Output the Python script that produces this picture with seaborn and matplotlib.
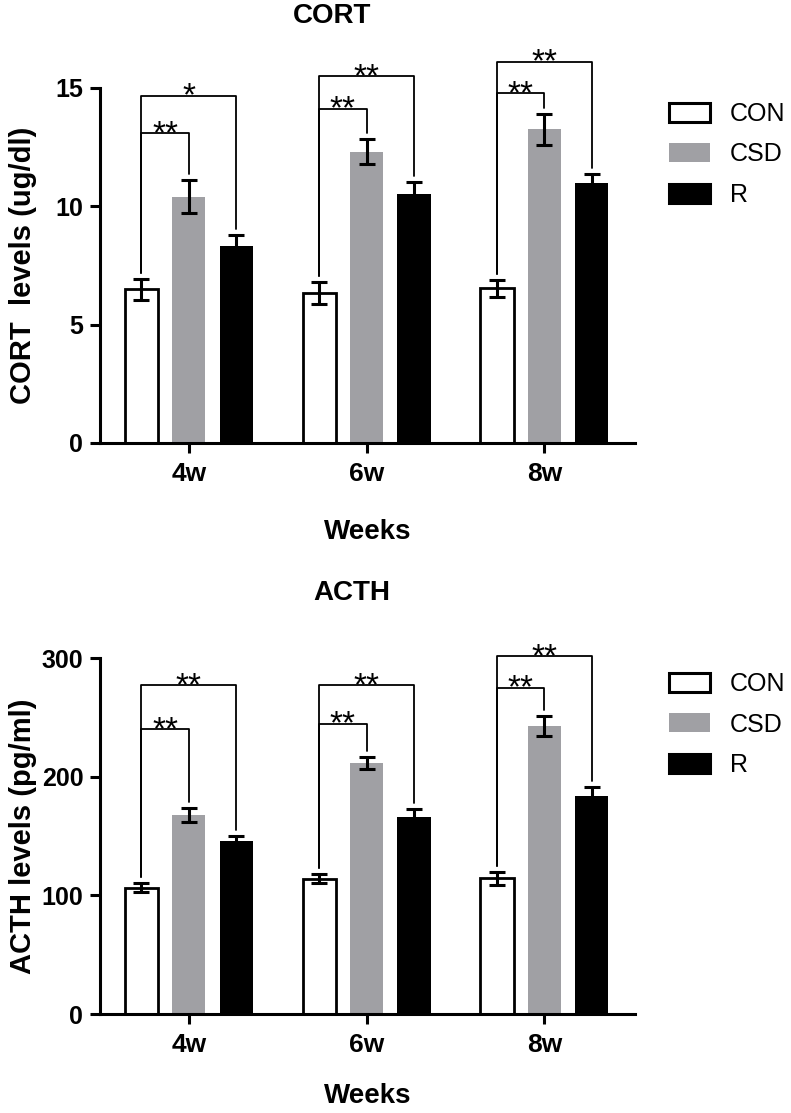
import numpy as np
import pandas as pd
import matplotlib
matplotlib.use('Agg')
import matplotlib.pyplot as plt
import seaborn as sns

# values (mean and SEM)
weeks = ['4w', '6w', '8w']
groups = ['CON', 'CSD', 'R']

cort_con = [6.49, 6.35, 6.53]
cort_csd = [10.41, 12.31, 13.25]
cort_r = [8.32, 10.53, 11.0]
cort_con_err = [0.43, 0.46, 0.37]
cort_csd_err = [0.69, 0.53, 0.66]
cort_r_err = [0.47, 0.51, 0.35]

acth_con = [106.5, 114.1, 114.4]
acth_csd = [167.6, 211.7, 242.6]
acth_r = [145.9, 166.4, 183.9]
acth_con_err = [3.7, 4.0, 5.6]
acth_csd_err = [6.0, 5.3, 8.7]
acth_r_err = [4.0, 6.2, 7.3]

# significance brackets: height of CON-CSD and CON-R lines, and stars
cort_br_csd = [13.08, 14.11, 14.77]
cort_br_r = [14.66, 15.5, 16.11]
cort_stars_csd = ['**', '**', '**']
cort_stars_r = ['*', '**', '**']

acth_br_csd = [240.1, 244.6, 274.9]
acth_br_r = [277.2, 276.9, 301.3]
acth_stars_csd = ['**', '**', '**']
acth_stars_r = ['**', '**', '**']

colors = {'CON': '#ffffff', 'CSD': '#a0a0a4', 'R': '#000000'}

sns.set_style('ticks')
plt.rcParams['font.family'] = ['Liberation Sans', 'DejaVu Sans']
plt.rcParams['text.color'] = 'black'
plt.rcParams['axes.labelcolor'] = 'black'
plt.rcParams['xtick.color'] = 'black'
plt.rcParams['ytick.color'] = 'black'
plt.rcParams['axes.edgecolor'] = 'black'

fig = plt.figure(figsize=(7.91, 11.13), dpi=100)
ax1 = fig.add_axes([0.1264, 0.6020, 0.6764, 0.3190])
ax2 = fig.add_axes([0.1264, 0.0889, 0.6764, 0.3199])


def draw_panel(ax, con, csd, r, errs, br_csd, br_r, st_csd, st_r, ylim, yticks, ylabel, gap):
    df = pd.DataFrame({
        'week': weeks * 3,
        'group': [g for g in groups for _ in weeks],
        'value': con + csd + r,
    })
    sns.barplot(data=df, x='week', y='value', hue='group', hue_order=groups,
                palette=colors, width=0.8, gap=0.3, errorbar=None, ax=ax)

    centers = []
    for cont, g, err in zip(ax.containers, groups, errs):
        xs = [p.get_x() + p.get_width() / 2 for p in cont.patches]
        hs = [p.get_height() for p in cont.patches]
        centers.append((xs, hs))
        for p in cont.patches:
            if g == 'CON':
                p.set_edgecolor('black')
                p.set_linewidth(2.0)
            else:
                p.set_edgecolor('none')
        ax.errorbar(xs, hs, yerr=err, fmt='none', ecolor='black',
                    elinewidth=2.2, capsize=6, capthick=2.2, zorder=5, clip_on=False)

    # brackets
    for i in range(len(weeks)):
        x0 = centers[0][0][i]
        top0 = centers[0][1][i] + errs[0][i] + gap
        for j, lvl, st in [(1, br_csd[i], st_csd[i]), (2, br_r[i], st_r[i])]:
            x1 = centers[j][0][i]
            top1 = centers[j][1][i] + errs[j][i] + gap
            ax.plot([x0, x0, x1, x1], [top0, lvl, lvl, top1], color='black',
                    lw=1.3, clip_on=False, zorder=6)
            ax.annotate(st, xy=((x0 + x1) / 2, lvl), xytext=(0, -7),
                        textcoords='offset points', ha='center', va='baseline',
                        fontsize=24, annotation_clip=False)

    ax.set_xlim(-0.5, 2.51)
    ax.set_ylim(*ylim)
    ax.set_yticks(yticks)
    sns.despine(ax=ax)
    for s in ['left', 'bottom']:
        ax.spines[s].set_linewidth(2.2)
    ax.tick_params(axis='both', width=2.2, length=7, pad=5)
    ax.tick_params(axis='y', labelsize=18)
    ax.tick_params(axis='x', labelsize=19, pad=7)
    for lab in ax.get_xticklabels() + ax.get_yticklabels():
        lab.set_fontweight('bold')
    ax.set_ylabel(ylabel, fontsize=21, fontweight='bold')
    ax.set_xlabel('Weeks', fontsize=20, fontweight='bold', va='top')
    ax.yaxis.set_label_coords(-0.118, 0.5)
    ax.xaxis.set_label_coords(0.5, -0.215)
    ax.get_legend().remove()


draw_panel(ax1, cort_con, cort_csd, cort_r, [cort_con_err, cort_csd_err, cort_r_err],
           cort_br_csd, cort_br_r, cort_stars_csd, cort_stars_r,
           (0, 15), [0, 5, 10, 15], 'CORT  levels (ug/dl)', 0.25)
draw_panel(ax2, acth_con, acth_csd, acth_r, [acth_con_err, acth_csd_err, acth_r_err],
           acth_br_csd, acth_br_r, acth_stars_csd, acth_stars_r,
           (0, 300), [0, 100, 200, 300], 'ACTH levels (pg/ml)', 5)
ax2.xaxis.set_label_coords(0.5, -0.195)

for ax, ytop in [(ax1, 0.9085), (ax2, 0.3962)]:
    handles = [plt.Rectangle((0, 0), 1, 1, facecolor=colors[g],
                             edgecolor='black' if g != 'CSD' else 'none', linewidth=2.2)
               for g in groups]
    ax.legend(handles, groups, loc='upper left', bbox_to_anchor=(0.8458, ytop),
              bbox_transform=fig.transFigure, frameon=False, fontsize=18,
              borderpad=0, borderaxespad=0, handlelength=1.64, handleheight=0.8,
              handletextpad=0.8, labelspacing=0.66)

fig.text(332 / 791, 1 - 16 / 1113, 'CORT', ha='center', va='center', fontsize=20, fontweight='bold')
fig.text(352 / 791, 1 - 593 / 1113, 'ACTH', ha='center', va='center', fontsize=20, fontweight='bold')

plt.savefig('out.png', dpi=100)
